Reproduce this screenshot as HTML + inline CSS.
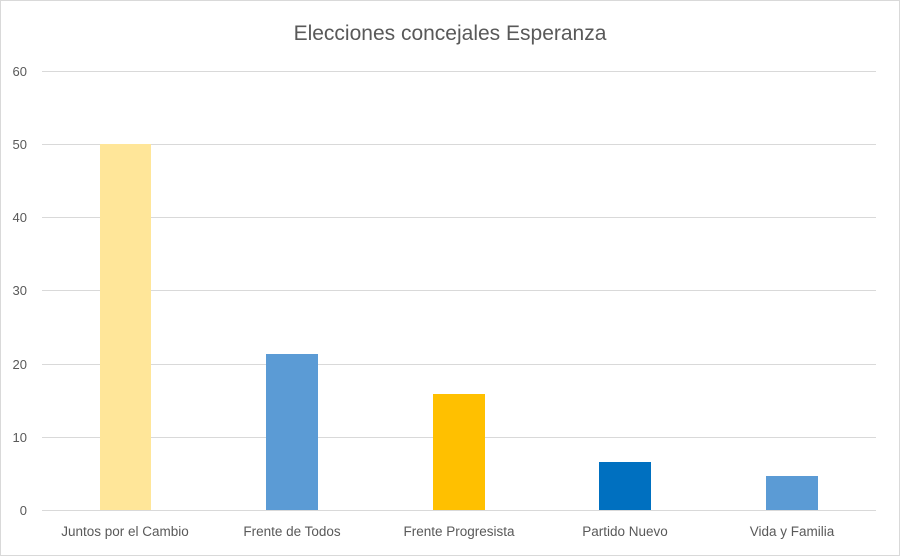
<!DOCTYPE html><html><head><style>body{margin:0;background:#fff}svg{display:block}</style></head><body>
<svg width="900" height="556" xmlns="http://www.w3.org/2000/svg" font-family="Liberation Sans, sans-serif">
<rect x="0.5" y="0.5" width="899" height="555" fill="#fff" stroke="#d9d9d9"/>
<text x="450" y="40" text-anchor="middle" font-size="21" fill="#595959">Elecciones concejales Esperanza</text>
<g stroke="#d9d9d9" stroke-width="1">
<line x1="42" x2="876" y1="71.5" y2="71.5"/><line x1="42" x2="876" y1="144.5" y2="144.5"/>
<line x1="42" x2="876" y1="217.5" y2="217.5"/><line x1="42" x2="876" y1="290.5" y2="290.5"/>
<line x1="42" x2="876" y1="364.5" y2="364.5"/><line x1="42" x2="876" y1="437.5" y2="437.5"/>
<line x1="42" x2="876" y1="510.5" y2="510.5"/></g>
<g font-size="13" fill="#595959" text-anchor="end">
<text x="27" y="76">60</text><text x="27" y="149">50</text><text x="27" y="222">40</text>
<text x="27" y="295">30</text><text x="27" y="369">20</text><text x="27" y="442">10</text><text x="27" y="515">0</text></g>
<rect x="100" y="144" width="51" height="366" fill="#ffe699"/>
<rect x="266" y="354" width="52" height="156" fill="#5b9bd5"/>
<rect x="433" y="394" width="52" height="116" fill="#ffc000"/>
<rect x="599" y="462" width="52" height="48" fill="#0070c0"/>
<rect x="766" y="476" width="52" height="34" fill="#5b9bd5"/>
<g font-size="13.5" fill="#595959" text-anchor="middle">
<text x="125" y="536">Juntos por el Cambio</text><text x="292" y="536">Frente de Todos</text>
<text x="459" y="536">Frente Progresista</text><text x="625" y="536">Partido Nuevo</text>
<text x="792" y="536">Vida y Familia</text></g>
</svg></body></html>
